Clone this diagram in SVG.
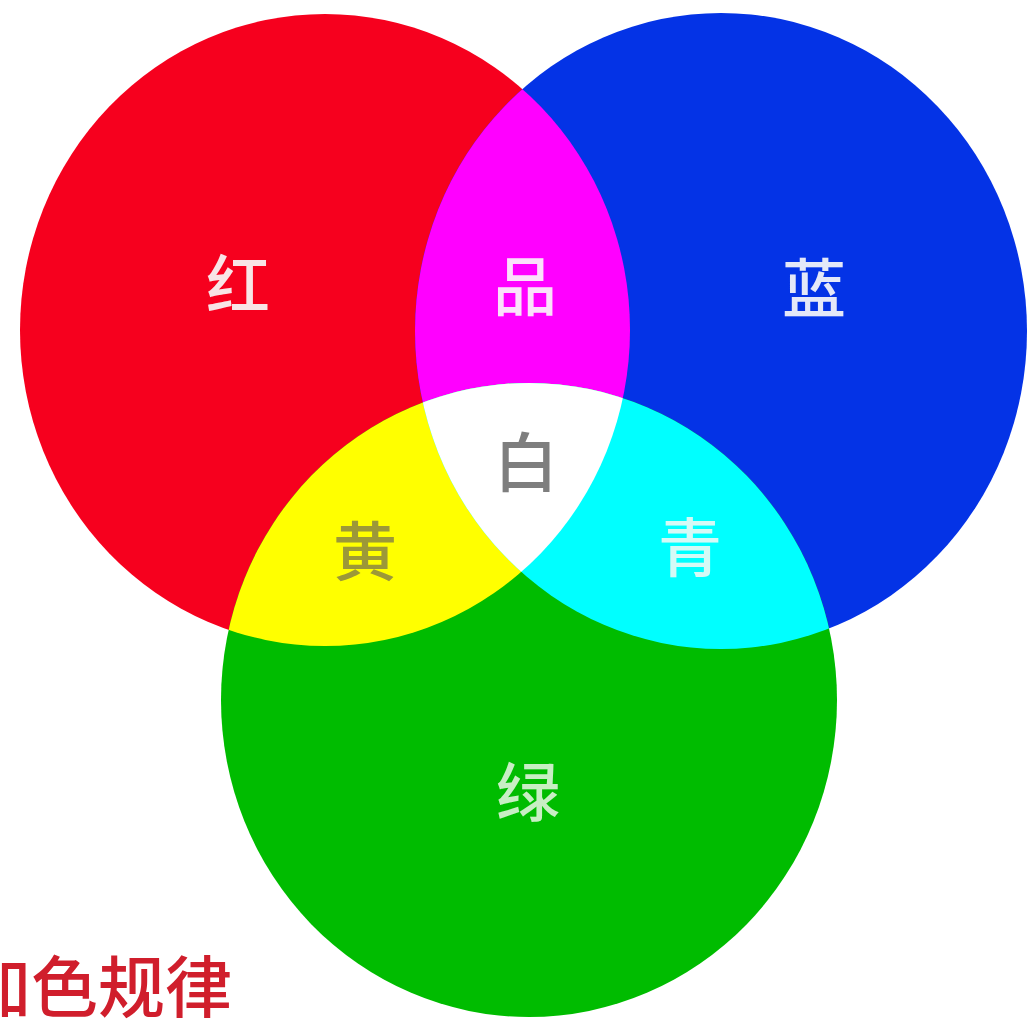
<svg xmlns="http://www.w3.org/2000/svg" width="1031" height="1026" viewBox="0 0 1031 1026">
<style>
.lbl{font-family:"Noto Sans CJK SC","Noto Sans CJK JP",sans-serif;text-anchor:middle;font-size:64px;font-weight:500}
</style>
<defs>
<ellipse id="eR" cx="325" cy="330" rx="305" ry="316"/>
<ellipse id="eB" cx="721" cy="331" rx="306" ry="318"/>
<ellipse id="eG" cx="529" cy="700" rx="308" ry="317"/>
<clipPath id="cR"><use href="#eR"/></clipPath>
<clipPath id="cB"><use href="#eB"/></clipPath>
</defs>
<rect width="1031" height="1026" fill="#ffffff"/>
<g id="red"><use href="#eR" fill="#F6001E"/></g>
<g id="blue"><use href="#eB" fill="#0433E6"/></g>
<g id="green"><use href="#eG" fill="#00BC00"/></g>
<g id="magenta" clip-path="url(#cR)"><use href="#eB" fill="#FF00FF"/></g>
<g id="yellow" clip-path="url(#cR)"><use href="#eG" fill="#FFFF00"/></g>
<g id="cyan" clip-path="url(#cB)"><use href="#eG" fill="#00FFFF"/></g>
<g id="white" clip-path="url(#cR)"><g clip-path="url(#cB)"><use href="#eG" fill="#FFFFFF"/></g></g>
<g id="labels">
<text class="lbl" x="238" y="308" fill="#F8E4E6">红</text>
<text class="lbl" x="525" y="310" fill="#FBE0FB">品</text>
<text class="lbl" x="814" y="312" fill="#E4E8F8">蓝</text>
<text class="lbl" x="526" y="486" fill="#7E7E7E" font-size="56">白</text>
<text class="lbl" x="365" y="575" fill="#9C9838">黄</text>
<text class="lbl" x="690" y="571" fill="#D4FAF6">青</text>
<text class="lbl" x="528" y="816" fill="#C8EEC4">绿</text>
</g>
<g id="title">
<text x="-36" y="1012" font-family="Noto Sans CJK SC, sans-serif" font-size="67" font-weight="500" fill="#D01E2C">加色规律</text>
</g>
</svg>
